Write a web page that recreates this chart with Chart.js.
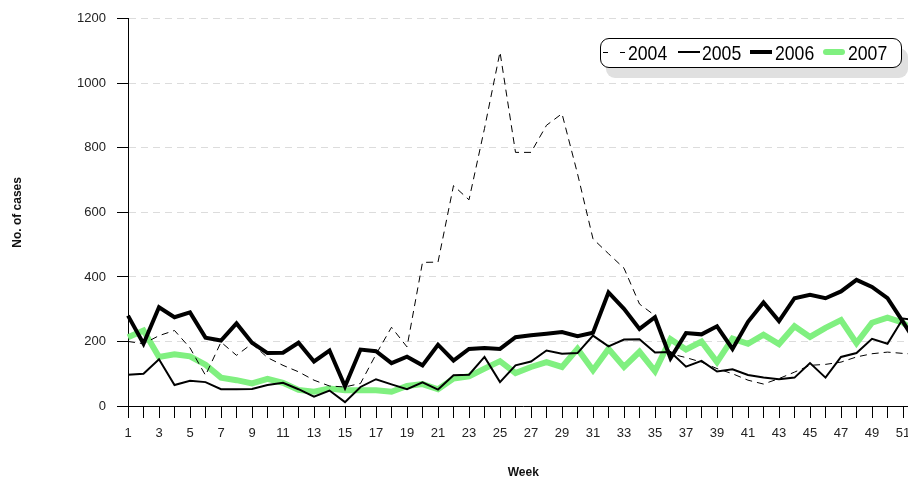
<!DOCTYPE html>
<html>
<head>
<meta charset="utf-8">
<script src="https://cdn.jsdelivr.net/npm/chart.js@4/dist/chart.umd.min.js"></script>
<style>
  html, body { margin: 0; padding: 0; background: #fff; overflow: hidden; }
  #wrap { position: relative; width: 908px; height: 480px; overflow: hidden; }
  #miGrafico { position: absolute; left: 0; top: 0; }
  #leyenda {
    position: absolute; left: 600px; top: 38px; width: 302px; height: 30px; box-sizing: border-box;
    border: 1.5px solid #000; border-radius: 9px; background: #fff;
    box-shadow: 6px 10px 0 #e0e0e0;
    font-family: 'Liberation Sans', Arial, sans-serif; font-size: 21px; color: #000;
  }
  #leyenda .muestra { position: absolute; top: 13px; }
  #leyenda .texto { position: absolute; top: 0; line-height: 27px; transform: scaleX(0.84); transform-origin: 0 50%; white-space: nowrap; }
</style>
</head>
<body>
<div id="wrap">
  <canvas id="miGrafico" width="930" height="480"></canvas>
  <div id="leyenda"></div>
</div>
<script>
// semanas 1..52
const semanas = [];
for (let i = 1; i <= 52; i++) semanas.push(String(i));

const anios = ['2004', '2005', '2006', '2007'];

const casos2004 = [200, 193, 218, 234, 180, 95, 198, 157, 193, 150, 126, 106, 80, 62, 59, 70, 160, 244, 183, 445,
  446, 683, 639, 860, 1097, 786, 786, 870, 906, 720, 518, 472, 427, 316, 280, 162, 150, 136, 116, 100,
  80, 68, 85, 105, 126, 129, 136, 152, 162, 167, 163, 160];
const casos2005 = [97, 100, 145, 65, 78, 74, 52, 52, 53, 65, 72, 52, 29, 48, 12, 59, 83, 67, 52, 73,
  51, 95, 97, 152, 74, 126, 138, 172, 162, 164, 218, 185, 206, 207, 166, 167, 122, 140, 107, 114,
  96, 88, 83, 88, 133, 88, 152, 164, 208, 193, 271, 265];
const casos2006 = [280, 193, 306, 275, 290, 212, 203, 256, 196, 164, 165, 196, 138, 172, 61, 175, 170, 133, 153, 126,
  190, 141, 177, 180, 177, 213, 219, 224, 229, 216, 227, 352, 301, 239, 275, 148, 226, 222, 247, 177,
  261, 321, 263, 334, 345, 334, 355, 391, 369, 334, 261, 185];
const casos2007 = [213, 234, 152, 160, 154, 128, 88, 80, 70, 84, 72, 50, 44, 54, 49, 49, 49, 44, 62, 68,
  52, 85, 92, 116, 139, 102, 121, 136, 121, 177, 111, 177, 121, 168, 108, 207, 175, 200, 136, 209,
  193, 221, 192, 247, 214, 242, 266, 195, 258, 274, 258, 220];

const ticksY = [0, 200, 400, 600, 800, 1000, 1200];

const verde = '#80f080';
const estilos = [
  { color: '#000', ancho: 1, dash: [7, 5] },
  { color: '#000', ancho: 2, dash: [] },
  { color: '#000', ancho: 4, dash: [] },
  { color: verde, ancho: 6, dash: [] },
];
const series = [casos2004, casos2005, casos2006, casos2007];

const datasets = anios.map((a, i) => ({
  label: a,
  data: series[i],
  borderColor: estilos[i].color,
  borderWidth: estilos[i].ancho,
  borderDash: estilos[i].dash,
  pointRadius: 0,
  tension: 0,
  fill: false,
  borderJoinStyle: 'miter',
}));

const fuente = 'Liberation Sans, Arial, sans-serif';

const ctx = document.getElementById('miGrafico').getContext('2d');
const myChart = new Chart(ctx, {
  type: 'line',
  data: { labels: semanas, datasets: datasets },
  options: {
    responsive: false,
    animation: false,
    devicePixelRatio: 1,
    layout: { padding: { top: 16, right: 11.5, left: 0, bottom: 0 } },
    plugins: { legend: { display: false }, tooltip: { enabled: false } },
    scales: {
      x: {
        offset: false,
        grid: { display: true, drawOnChartArea: false, drawTicks: true, tickLength: 12, tickColor: '#000', tickWidth: 1 },
        border: { display: true, color: '#000', width: 1 },
        ticks: {
          autoSkip: false, maxRotation: 0, minRotation: 0, padding: 8,
          color: '#222', font: { family: fuente, size: 13 },
          callback: function (val, idx) { return idx % 2 === 0 ? this.getLabelForValue(val) : ''; },
        },
        title: { display: true, text: 'Week', color: '#111', padding: { top: 19, bottom: 0 },
          font: { family: fuente, size: 12, weight: 'bold' } },
        afterFit: (scale) => { scale.height = 74; },
      },
      y: {
        min: 0, max: 1200,
        afterBuildTicks: (scale) => { scale.ticks = ticksY.map(v => ({ value: v })); },
        grid: { color: '#dcdcdc', lineWidth: 1, drawTicks: true, tickLength: 11, tickColor: '#000' },
        border: { display: true, color: '#000', width: 1, dash: [7, 5] },
        ticks: { padding: 11, color: '#222', font: { family: fuente, size: 13 },
          callback: (v) => String(v) },
        title: { display: true, text: 'No. of cases', color: '#111', padding: { top: 10, bottom: 0 },
          font: { family: fuente, size: 12, weight: 'bold' } },
        afterFit: (scale) => { scale.width = 128; },
      },
    },
  },
});

// leyenda en HTML
const leyenda = document.getElementById('leyenda');
const posMuestra = [2, 77, 149, 222];
const posTexto = [27, 101, 174, 247];
anios.forEach((a, i) => {
  const m = document.createElement('span');
  m.className = 'muestra';
  m.style.left = posMuestra[i] + 'px';
  m.style.width = '22px';
  m.style.height = Math.max(estilos[i].ancho, 1.5) + 'px';
  m.style.marginTop = (-estilos[i].ancho / 2) + 'px';
  if (i === 0) {
    m.style.background = 'repeating-linear-gradient(90deg, #000 0 5px, transparent 5px 17px)';
  } else {
    m.style.background = estilos[i].color;
    if (i === 3) m.style.borderRadius = '3px';
  }
  leyenda.appendChild(m);
  const t = document.createElement('span');
  t.className = 'texto';
  t.style.left = posTexto[i] + 'px';
  t.textContent = a;
  leyenda.appendChild(t);
});
</script>
</body>
</html>
